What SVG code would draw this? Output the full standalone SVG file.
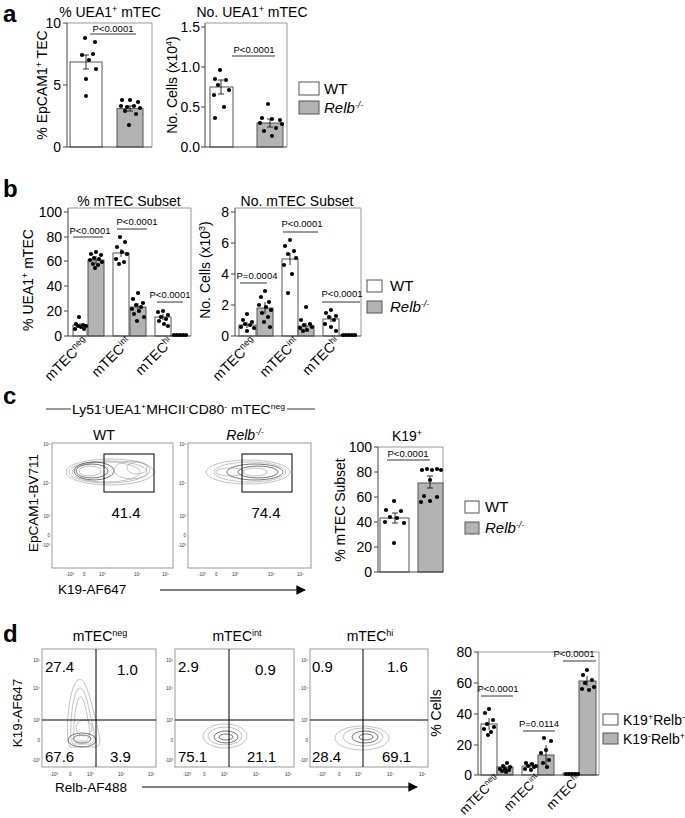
<svg xmlns="http://www.w3.org/2000/svg" width="685" height="818" viewBox="0 0 685 818">
<defs>
<style>
text{font-family:"Liberation Sans",Arial,sans-serif;fill:#000}
.pl{font-size:24px;font-weight:bold}
.t{font-size:14px}
.xl{font-size:13px;text-anchor:end}
.tk{font-size:14px;text-anchor:end}
.p{font-size:9.5px;text-anchor:middle}
.n{font-size:15px}
.tiny{font-size:4.5px;fill:#333}
.fr{fill:none;stroke:#999;stroke-width:1}
.ax{stroke:#444;stroke-width:1;fill:none}
.w{fill:#fff;stroke:#555;stroke-width:1}
.g{fill:#b3b3b3;stroke:#555;stroke-width:1}
.ln{stroke:#000;stroke-width:0.8}
.e{stroke:#000;stroke-width:0.8;fill:none}
circle{fill:#000;r:2.1}
.ct{fill:none;stroke:#999;stroke-width:0.6}
.ctd{fill:none;stroke:#555;stroke-width:0.8}
.q{stroke:#000;stroke-width:1}
</style>
<marker id="ah" viewBox="0 0 10 10" refX="9" refY="5" markerWidth="8" markerHeight="8" orient="auto"><path d="M0,0L10,5L0,10z" fill="#000"/></marker>
</defs>
<rect width="685" height="818" fill="#fff"/>

<g id="panel-a">
<text class="pl" x="3" y="22">a</text>
<text class="t" x="110" y="17" text-anchor="middle">% UEA1<tspan font-size="9" dy="-5">+</tspan><tspan dy="5"> mTEC</tspan></text>
<path class="fr" d="M67,23H152V147"/>
<rect class="w" x="70" y="62" width="32" height="85"/>
<rect class="g" x="117" y="108.6" width="26" height="38.4"/>
<path class="ax" d="M67,23V147H152M63,23H67M63,85H67M63,147H67"/>
<text class="tk" x="61" y="28">10</text><text class="tk" x="61" y="90">5</text><text class="tk" x="61" y="152">0</text>
<text class="t" transform="translate(47,85) rotate(-90)" text-anchor="middle">% EpCAM1<tspan font-size="9" dy="-5">+</tspan><tspan dy="5"> TEC</tspan></text>
<line class="ln" x1="90" y1="34" x2="136" y2="34"/><text class="p" x="113" y="32">P&lt;0.0001</text>
<path class="e" d="M86,55V69M83,55H89M83,69H89M130,106V111M127,106H133M127,111H133"/>
<circle cx="85" cy="38"/><circle cx="95" cy="42"/><circle cx="82" cy="55"/><circle cx="93" cy="54"/><circle cx="89" cy="60"/><circle cx="96" cy="69"/><circle cx="86" cy="79"/><circle cx="86" cy="96"/>
<circle cx="122" cy="100"/><circle cx="130" cy="100"/><circle cx="138" cy="102"/><circle cx="121" cy="106"/><circle cx="127" cy="107"/><circle cx="134" cy="106"/><circle cx="140" cy="108"/><circle cx="125" cy="111"/><circle cx="136" cy="114"/><circle cx="129" cy="125"/>

<text class="t" x="252" y="17" text-anchor="middle">No. UEA1<tspan font-size="9" dy="-5">+</tspan><tspan dy="5"> mTEC</tspan></text>
<path class="fr" d="M205,23H287V147"/>
<rect class="w" x="210" y="87" width="23" height="60"/>
<rect class="g" x="257" y="123" width="26" height="24"/>
<path class="ax" d="M205,23V147H287M201,27H205M201,67H205M201,107H205M201,147H205"/>
<text class="tk" x="200" y="32">1.5</text><text class="tk" x="200" y="72">1.0</text><text class="tk" x="200" y="112">0.5</text><text class="tk" x="200" y="152">0.0</text>
<text class="t" transform="translate(177,85) rotate(-90)" text-anchor="middle">No. Cells (x10<tspan font-size="9" dy="-5">4</tspan><tspan dy="5">)</tspan></text>
<line class="ln" x1="232" y1="56" x2="275" y2="56"/><text class="p" x="254" y="53">P&lt;0.0001</text>
<path class="e" d="M221,80V94M218,80H224M218,94H224M270,119V127M267,119H273M267,127H273"/>
<circle cx="220" cy="70"/><circle cx="215" cy="79"/><circle cx="226" cy="80"/><circle cx="218" cy="85"/><circle cx="229" cy="90"/><circle cx="214" cy="95"/><circle cx="224" cy="107"/><circle cx="215" cy="118"/>
<circle cx="268" cy="104"/><circle cx="262" cy="118"/><circle cx="272" cy="119"/><circle cx="280" cy="120"/><circle cx="260" cy="123"/><circle cx="282" cy="124"/><circle cx="276" cy="128"/><circle cx="264" cy="131"/><circle cx="272" cy="136"/>

<rect class="w" x="299" y="82" width="20" height="13"/><text class="n" x="324" y="94">WT</text>
<rect class="g" x="299" y="101" width="20" height="13"/><text class="n" x="324" y="113" font-style="italic">Relb<tspan font-size="9" dy="-5">-/-</tspan></text>
</g>

<g id="panel-b">
<text class="pl" x="3" y="197">b</text>
<text class="t" x="129" y="206" text-anchor="middle">% mTEC Subset</text>
<path class="fr" d="M68,208H191V336"/>
<rect class="w" x="73" y="325" width="14" height="11"/><rect class="g" x="88" y="260" width="16" height="76"/>
<rect class="w" x="113" y="253" width="16" height="83"/><rect class="g" x="130" y="307" width="16" height="29"/>
<rect class="w" x="155" y="317" width="16" height="19"/><rect class="g" x="171" y="335" width="16" height="1"/>
<path class="ax" d="M68,208V336H191M64,212H68M64,237H68M64,261H68M64,286H68M64,311H68M64,336H68"/>
<text class="tk" x="62" y="217">100</text><text class="tk" x="62" y="242">80</text><text class="tk" x="62" y="266">60</text><text class="tk" x="62" y="291">40</text><text class="tk" x="62" y="316">20</text><text class="tk" x="62" y="341">0</text>
<text class="t" transform="translate(33,280) rotate(-90)" text-anchor="middle">% UEA1<tspan font-size="9" dy="-5">+</tspan><tspan dy="5"> mTEC</tspan></text>
<line class="ln" x1="73" y1="237" x2="103" y2="237"/><text class="p" x="90" y="234">P&lt;0.0001</text>
<line class="ln" x1="117" y1="229" x2="147" y2="229"/><text class="p" x="137" y="225">P&lt;0.0001</text>
<line class="ln" x1="157" y1="302" x2="183" y2="302"/><text class="p" x="170" y="298">P&lt;0.0001</text>
<path class="e" d="M80,323V327M96,256V264M121,249V257M138,303V311M163,314V320"/>
<circle cx="79" cy="317"/><circle cx="76" cy="324"/><circle cx="83" cy="325"/><circle cx="78" cy="326"/><circle cx="86" cy="326"/><circle cx="81" cy="327"/><circle cx="75" cy="329"/><circle cx="84" cy="329"/>
<circle cx="96" cy="252"/><circle cx="91" cy="254"/><circle cx="101" cy="255"/><circle cx="94" cy="258"/><circle cx="99" cy="259"/><circle cx="90" cy="260"/><circle cx="102" cy="262"/><circle cx="93" cy="264"/><circle cx="98" cy="265"/><circle cx="95" cy="268"/>
<circle cx="120" cy="237"/><circle cx="125" cy="242"/><circle cx="117" cy="247"/><circle cx="122" cy="252"/><circle cx="127" cy="254"/><circle cx="116" cy="259"/><circle cx="124" cy="262"/><circle cx="119" cy="264"/>
<circle cx="138" cy="293"/><circle cx="133" cy="299"/><circle cx="143" cy="303"/><circle cx="136" cy="305"/><circle cx="141" cy="307"/><circle cx="132" cy="309"/><circle cx="139" cy="311"/><circle cx="134" cy="314"/><circle cx="144" cy="317"/><circle cx="137" cy="321"/>
<circle cx="163" cy="311"/><circle cx="158" cy="312"/><circle cx="168" cy="315"/><circle cx="161" cy="317"/><circle cx="166" cy="319"/><circle cx="159" cy="321"/><circle cx="164" cy="324"/><circle cx="168" cy="326"/>
<circle cx="174" cy="335"/><circle cx="177" cy="335"/><circle cx="180" cy="335"/><circle cx="183" cy="335"/><circle cx="186" cy="335"/>
<text class="t" transform="translate(89,343) rotate(-45)" text-anchor="end">mTEC<tspan font-size="9" dy="-5">neg</tspan></text>
<text class="t" transform="translate(132,343) rotate(-45)" text-anchor="end">mTEC<tspan font-size="9" dy="-5">int</tspan></text>
<text class="t" transform="translate(174,343) rotate(-45)" text-anchor="end">mTEC<tspan font-size="9" dy="-5">hi</tspan></text>

<text class="t" x="297" y="206" text-anchor="middle">No. mTEC Subset</text>
<path class="fr" d="M235,208H361V336"/>
<rect class="w" x="239" y="325" width="17" height="11"/><rect class="g" x="257" y="308" width="16" height="28"/>
<rect class="w" x="282" y="259" width="16" height="77"/><rect class="g" x="298" y="326" width="16" height="10"/>
<rect class="w" x="323" y="319" width="16" height="17"/><rect class="g" x="340" y="335" width="16" height="1"/>
<path class="ax" d="M235,208V336H361M231,212H235M231,243H235M231,274H235M231,305H235M231,336H235"/>
<text class="tk" x="229" y="217">8</text><text class="tk" x="229" y="248">6</text><text class="tk" x="229" y="279">4</text><text class="tk" x="229" y="310">2</text><text class="tk" x="229" y="341">0</text>
<text class="t" transform="translate(210,270) rotate(-90)" text-anchor="middle">No. Cells (x10<tspan font-size="9" dy="-5">3</tspan><tspan dy="5">)</tspan></text>
<line class="ln" x1="240" y1="283" x2="267" y2="283"/><text class="p" x="257" y="279">P=0.0004</text>
<line class="ln" x1="283" y1="232" x2="318" y2="232"/><text class="p" x="302" y="227">P&lt;0.0001</text>
<line class="ln" x1="322" y1="302" x2="360" y2="302"/><text class="p" x="342" y="297">P&lt;0.0001</text>
<path class="e" d="M247,322V328M265,302V314M290,253V265M306,323V329M331,316V322"/>
<circle cx="247" cy="314"/><circle cx="243" cy="320"/><circle cx="252" cy="322"/><circle cx="245" cy="324"/><circle cx="250" cy="325"/><circle cx="241" cy="327"/><circle cx="254" cy="328"/><circle cx="247" cy="331"/>
<circle cx="265" cy="291"/><circle cx="261" cy="297"/><circle cx="269" cy="302"/><circle cx="259" cy="305"/><circle cx="266" cy="307"/><circle cx="271" cy="310"/><circle cx="262" cy="313"/><circle cx="268" cy="317"/><circle cx="264" cy="322"/><circle cx="270" cy="327"/>
<circle cx="290" cy="240"/><circle cx="285" cy="246"/><circle cx="294" cy="251"/><circle cx="288" cy="254"/><circle cx="296" cy="258"/><circle cx="284" cy="265"/><circle cx="292" cy="274"/><circle cx="288" cy="293"/>
<circle cx="306" cy="307"/><circle cx="301" cy="320"/><circle cx="310" cy="324"/><circle cx="304" cy="325"/><circle cx="312" cy="327"/><circle cx="300" cy="328"/><circle cx="307" cy="330"/><circle cx="303" cy="331"/>
<circle cx="331" cy="310"/><circle cx="326" cy="313"/><circle cx="336" cy="316"/><circle cx="329" cy="317"/><circle cx="334" cy="320"/><circle cx="325" cy="324"/><circle cx="331" cy="327"/><circle cx="336" cy="331"/>
<circle cx="343" cy="335"/><circle cx="346" cy="335"/><circle cx="349" cy="335"/><circle cx="352" cy="335"/><circle cx="355" cy="335"/>
<text class="t" transform="translate(257,343) rotate(-45)" text-anchor="end">mTEC<tspan font-size="9" dy="-5">neg</tspan></text>
<text class="t" transform="translate(300,343) rotate(-45)" text-anchor="end">mTEC<tspan font-size="9" dy="-5">int</tspan></text>
<text class="t" transform="translate(341,343) rotate(-45)" text-anchor="end">mTEC<tspan font-size="9" dy="-5">hi</tspan></text>

<rect class="w" x="367" y="280" width="15" height="12"/><text class="n" x="390" y="291">WT</text>
<rect class="g" x="367" y="301" width="15" height="12"/><text class="n" x="390" y="312" font-style="italic">Relb<tspan font-size="9" dy="-5">-/-</tspan></text>
</g>

<g id="panel-c">
<text class="pl" x="3" y="404">c</text>
<line class="ln" x1="46" y1="409" x2="71" y2="409"/><line class="ln" x1="287" y1="409" x2="315" y2="409"/>
<text x="72" y="414" font-size="13" textLength="213" lengthAdjust="spacingAndGlyphs">Ly51<tspan font-size="8" dy="-5">-</tspan><tspan dy="5">UEA1</tspan><tspan font-size="8" dy="-5">+</tspan><tspan dy="5">MHCII</tspan><tspan font-size="8" dy="-5">-</tspan><tspan dy="5">CD80</tspan><tspan font-size="8" dy="-5">-</tspan><tspan dy="5"> mTEC</tspan><tspan font-size="8" dy="-5">neg</tspan></text>
<text class="t" x="104" y="440" text-anchor="middle">WT</text>
<text class="t" x="245" y="440" text-anchor="middle" font-style="italic">Relb<tspan font-size="9" dy="-5">-/-</tspan></text>
<rect class="fr" x="52" y="443" width="121" height="125" stroke="#666"/>
<g>
<ellipse class="ct" cx="110" cy="472" rx="44" ry="13"/><ellipse class="ct" cx="108" cy="472" rx="39" ry="11"/><ellipse class="ct" cx="106" cy="472" rx="34" ry="10"/>
<ellipse class="ctd" cx="94" cy="471" rx="20" ry="9"/><ellipse class="ctd" cx="92" cy="471" rx="16" ry="7"/><ellipse class="ct" cx="90" cy="471" rx="11" ry="5"/><ellipse class="ct" cx="132" cy="470" rx="18" ry="9"/><ellipse class="ct" cx="137" cy="468" rx="10" ry="6"/>
</g>
<rect x="104" y="454" width="50" height="38" fill="none" stroke="#000"/>
<text class="n" x="126" y="518" text-anchor="middle">41.4</text>
<rect class="fr" x="188" y="443" width="123" height="125" stroke="#666"/>
<g>
<ellipse class="ct" cx="248" cy="472" rx="42" ry="12"/><ellipse class="ct" cx="250" cy="472" rx="36" ry="10"/><ellipse class="ctd" cx="255" cy="472" rx="28" ry="8"/><ellipse class="ctd" cx="258" cy="472" rx="20" ry="6"/><ellipse class="ct" cx="255" cy="472" rx="12" ry="4"/><ellipse class="ct" cx="230" cy="472" rx="14" ry="4"/>
</g>
<rect x="242" y="454" width="50" height="38" fill="none" stroke="#000"/>
<text class="n" x="266" y="518" text-anchor="middle">74.4</text>
<text class="tiny" x="50" y="446" text-anchor="end">10⁵</text><text class="tiny" x="50" y="485" text-anchor="end">10⁴</text><text class="tiny" x="50" y="518" text-anchor="end">10³</text><text class="tiny" x="50" y="537" text-anchor="end">0</text><text class="tiny" x="50" y="547" text-anchor="end">-10³</text>
<text class="tiny" x="186" y="446" text-anchor="end">10⁵</text><text class="tiny" x="186" y="485" text-anchor="end">10⁴</text><text class="tiny" x="186" y="518" text-anchor="end">10³</text><text class="tiny" x="186" y="537" text-anchor="end">0</text><text class="tiny" x="186" y="547" text-anchor="end">-10³</text>
<text class="tiny" x="66" y="576">-10³</text><text class="tiny" x="83" y="576">0</text><text class="tiny" x="99" y="576">10³</text><text class="tiny" x="134" y="576">10⁴</text><text class="tiny" x="162" y="576">10⁵</text>
<text class="tiny" x="198" y="576">-10³</text><text class="tiny" x="215" y="576">0</text><text class="tiny" x="232" y="576">10³</text><text class="tiny" x="268" y="576">10⁴</text><text class="tiny" x="297" y="576">10⁵</text>
<text x="38" y="503" font-size="13.5" transform="rotate(-90 38 503)" text-anchor="middle">EpCAM1-BV711</text>
<text x="58" y="594" font-size="13.5">K19-AF647</text>
<line x1="160" y1="590" x2="305" y2="590" stroke="#000" stroke-width="1.2" marker-end="url(#ah)"/>

<text class="t" x="407" y="441" text-anchor="middle">K19<tspan font-size="9" dy="-5">+</tspan></text>
<path class="fr" d="M378,447H443V572"/>
<rect class="w" x="380" y="518" width="29" height="54"/><rect class="g" x="418" y="483" width="25" height="89"/>
<path class="ax" d="M378,447V572H443M374,447H378M374,472H378M374,497H378M374,522H378M374,547H378M374,572H378"/>
<text class="tk" x="372" y="452">100</text><text class="tk" x="372" y="477">80</text><text class="tk" x="372" y="502">60</text><text class="tk" x="372" y="527">40</text><text class="tk" x="372" y="552">20</text><text class="tk" x="372" y="577">0</text>
<text class="t" transform="translate(345,510) rotate(-90)" text-anchor="middle">% mTEC Subset</text>
<line class="ln" x1="387" y1="460" x2="430" y2="460"/><text class="p" x="408" y="457">P&lt;0.0001</text>
<path class="e" d="M395,513V523M392,513H398M392,523H398M430,476V488M427,476H433M427,488H433"/>
<circle cx="394" cy="501"/><circle cx="386" cy="510"/><circle cx="401" cy="511"/><circle cx="390" cy="517"/><circle cx="397" cy="518"/><circle cx="385" cy="522"/><circle cx="404" cy="523"/><circle cx="394" cy="543"/>
<circle cx="422" cy="470"/><circle cx="427" cy="469"/><circle cx="432" cy="470"/><circle cx="437" cy="469"/><circle cx="441" cy="470"/><circle cx="430" cy="480"/><circle cx="424" cy="496"/><circle cx="437" cy="497"/><circle cx="430" cy="501"/><circle cx="421" cy="502"/>
<rect class="w" x="465" y="501" width="14" height="12"/><text class="n" x="485" y="512">WT</text>
<rect class="g" x="465" y="522" width="14" height="12"/><text class="n" x="485" y="533" font-style="italic">Relb<tspan font-size="9" dy="-5">-/-</tspan></text>
</g>

<g id="panel-d">
<text class="pl" x="3" y="642">d</text>
<text class="t" x="100" y="641" text-anchor="middle">mTEC<tspan font-size="9" dy="-5">neg</tspan></text>
<text class="t" x="237" y="641" text-anchor="middle">mTEC<tspan font-size="9" dy="-5">int</tspan></text>
<text class="t" x="370" y="641" text-anchor="middle">mTEC<tspan font-size="9" dy="-5">hi</tspan></text>
<rect class="fr" x="42" y="649" width="114" height="118" stroke="#666"/>
<rect class="fr" x="175" y="649" width="119" height="118" stroke="#666"/>
<rect class="fr" x="310" y="649" width="118" height="118" stroke="#666"/>
<g>
<path class="ct" d="M68,742C66,720 70,685 78,680C86,676 90,700 96,720C100,738 102,745 96,747H70Z"/>
<path class="ct" d="M71,740C70,720 73,692 79,688C85,686 88,705 92,722C95,736 96,742 90,744H73Z"/>
<path class="ct" d="M74,738C73,722 76,700 80,697C84,696 86,710 89,725C90,735 89,740 86,741H76Z"/>
<ellipse class="ctd" cx="82" cy="740" rx="14" ry="7"/><ellipse class="ctd" cx="82" cy="739" rx="9" ry="4"/><ellipse class="ct" cx="84" cy="728" rx="8" ry="8"/>
<ellipse class="ct" cx="225" cy="736" rx="22" ry="12"/><ellipse class="ct" cx="225" cy="736" rx="17" ry="9"/><ellipse class="ctd" cx="226" cy="737" rx="12" ry="6"/><ellipse class="ctd" cx="226" cy="737" rx="7" ry="3"/>
<ellipse class="ct" cx="362" cy="738" rx="27" ry="12"/><ellipse class="ct" cx="363" cy="737" rx="20" ry="9"/><ellipse class="ctd" cx="365" cy="737" rx="13" ry="6"/><ellipse class="ctd" cx="366" cy="737" rx="7" ry="3"/>
</g>
<path class="q" d="M96,649V767M42,720H156M229,649V767M175,720H294M363,649V767M310,720H428"/>
<text class="n" x="45" y="672">27.4</text><text class="n" x="117" y="675">1.0</text><text class="n" x="45" y="762">67.6</text><text class="n" x="110" y="762">3.9</text>
<text class="n" x="178" y="672">2.9</text><text class="n" x="255" y="675">0.9</text><text class="n" x="178" y="762">75.1</text><text class="n" x="247" y="762">21.1</text>
<text class="n" x="312" y="672">0.9</text><text class="n" x="387" y="672">1.6</text><text class="n" x="312" y="762">28.4</text><text class="n" x="382" y="762">69.1</text>
<text class="tiny" x="40" y="662" text-anchor="end">10⁵</text><text class="tiny" x="40" y="690" text-anchor="end">10⁴</text><text class="tiny" x="40" y="722" text-anchor="end">10³</text><text class="tiny" x="40" y="742" text-anchor="end">0</text><text class="tiny" x="40" y="762" text-anchor="end">-10³</text>
<text class="tiny" x="173" y="662" text-anchor="end">10⁵</text><text class="tiny" x="173" y="690" text-anchor="end">10⁴</text><text class="tiny" x="173" y="722" text-anchor="end">10³</text><text class="tiny" x="173" y="742" text-anchor="end">0</text><text class="tiny" x="173" y="762" text-anchor="end">-10³</text>
<text class="tiny" x="308" y="662" text-anchor="end">10⁵</text><text class="tiny" x="308" y="690" text-anchor="end">10⁴</text><text class="tiny" x="308" y="722" text-anchor="end">10³</text><text class="tiny" x="308" y="742" text-anchor="end">0</text><text class="tiny" x="308" y="762" text-anchor="end">-10³</text>
<text class="tiny" x="50" y="776">-10³</text><text class="tiny" x="69" y="776">0</text><text class="tiny" x="87" y="776">10³</text><text class="tiny" x="118" y="776">10⁴</text><text class="tiny" x="148" y="776">10⁵</text>
<text class="tiny" x="183" y="776">-10³</text><text class="tiny" x="203" y="776">0</text><text class="tiny" x="221" y="776">10³</text><text class="tiny" x="253" y="776">10⁴</text><text class="tiny" x="285" y="776">10⁵</text>
<text class="tiny" x="318" y="776">-10³</text><text class="tiny" x="338" y="776">0</text><text class="tiny" x="355" y="776">10³</text><text class="tiny" x="387" y="776">10⁴</text><text class="tiny" x="419" y="776">10⁵</text>
<text x="22" y="713" font-size="13.5" transform="rotate(-90 22 713)" text-anchor="middle">K19-AF647</text>
<text x="55" y="792" font-size="13.5">Relb-AF488</text>
<line x1="142" y1="787" x2="417" y2="787" stroke="#000" stroke-width="1.2" marker-end="url(#ah)"/>

<path class="fr" d="M478,652H599V775"/>
<rect class="w" x="481" y="724" width="16" height="51"/><rect class="g" x="497" y="767" width="16" height="8"/>
<rect class="w" x="522" y="766" width="16" height="9"/><rect class="g" x="538" y="755" width="16" height="20"/>
<rect class="w" x="563" y="773" width="16" height="2"/><rect class="g" x="579" y="681" width="17" height="94"/>
<path class="ax" d="M478,652V775H599M474,652H478M474,683H478M474,714H478M474,745H478M474,775H478"/>
<text class="tk" x="472" y="657">80</text><text class="tk" x="472" y="688">60</text><text class="tk" x="472" y="719">40</text><text class="tk" x="472" y="750">20</text><text class="tk" x="472" y="780">0</text>
<text class="t" transform="translate(441,713) rotate(-90)" text-anchor="middle">% Cells</text>
<line class="ln" x1="481" y1="696" x2="513" y2="696"/><text class="p" x="498" y="692">P&lt;0.0001</text>
<line class="ln" x1="523" y1="731" x2="555" y2="731"/><text class="p" x="539" y="727">P=0.0114</text>
<line class="ln" x1="563" y1="661" x2="596" y2="661"/><text class="p" x="574" y="657">P&lt;0.0001</text>
<path class="e" d="M489,718V730M505,765V770M530,763V769M546,745V765M587,676V686"/>
<circle cx="489" cy="709"/><circle cx="485" cy="713"/><circle cx="493" cy="720"/><circle cx="487" cy="724"/><circle cx="494" cy="727"/><circle cx="484" cy="729"/><circle cx="491" cy="732"/><circle cx="488" cy="735"/>
<circle cx="507" cy="763"/><circle cx="503" cy="766"/><circle cx="510" cy="767"/><circle cx="500" cy="769"/><circle cx="505" cy="769"/><circle cx="509" cy="770"/><circle cx="502" cy="771"/><circle cx="506" cy="772"/>
<circle cx="526" cy="763"/><circle cx="532" cy="764"/><circle cx="536" cy="766"/><circle cx="528" cy="766"/><circle cx="534" cy="767"/><circle cx="525" cy="769"/><circle cx="531" cy="770"/>
<circle cx="544" cy="738"/><circle cx="551" cy="741"/><circle cx="546" cy="750"/><circle cx="541" cy="753"/><circle cx="549" cy="760"/><circle cx="543" cy="763"/><circle cx="547" cy="767"/>
<circle cx="566" cy="774"/><circle cx="569" cy="774"/><circle cx="572" cy="774"/><circle cx="575" cy="774"/><circle cx="578" cy="774"/>
<circle cx="587" cy="670"/><circle cx="583" cy="675"/><circle cx="592" cy="680"/><circle cx="585" cy="683"/><circle cx="594" cy="687"/><circle cx="582" cy="689"/><circle cx="589" cy="690"/>
<text class="xl" transform="translate(500,780) rotate(-45)">mTEC<tspan font-size="8" dy="-5">neg</tspan></text>
<text class="xl" transform="translate(541,780) rotate(-45)">mTEC<tspan font-size="8" dy="-5">int</tspan></text>
<text class="xl" transform="translate(582,780) rotate(-45)">mTEC<tspan font-size="8" dy="-5">hi</tspan></text>
<rect class="w" x="603" y="714" width="15" height="11"/><text x="623" y="725" font-size="14">K19<tspan font-size="9" dy="-5">+</tspan><tspan dy="5">Relb</tspan><tspan font-size="9" dy="-5">-</tspan></text>
<rect class="g" x="603" y="733" width="15" height="11"/><text x="623" y="744" font-size="14">K19<tspan font-size="9" dy="-5">-</tspan><tspan dy="5">Relb</tspan><tspan font-size="9" dy="-5">+</tspan></text>
</g>
</svg>
